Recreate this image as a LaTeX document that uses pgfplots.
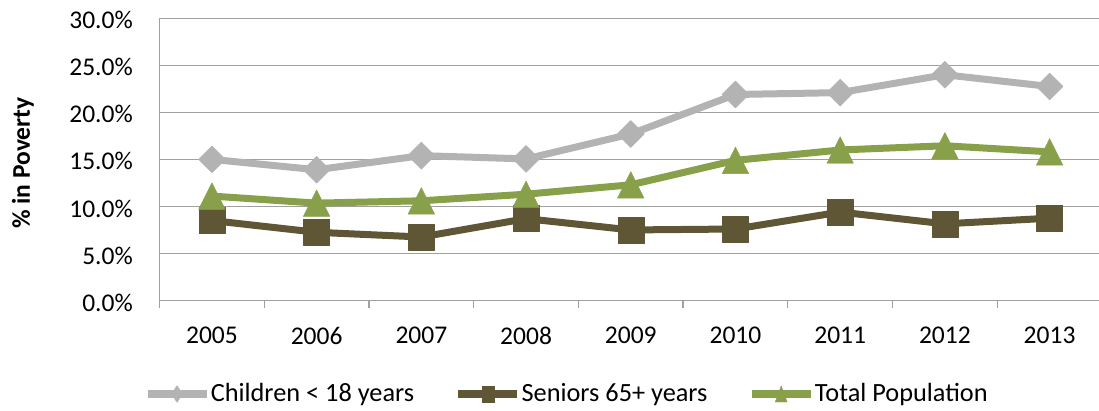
\documentclass[border=0pt]{standalone}
\usepackage{pgfplots}
\pgfplotsset{compat=1.18}
\usepackage{fontspec}
\setmainfont{Carlito}
\definecolor{cchild}{RGB}{179,179,179}
\definecolor{csen}{RGB}{94,86,53}
\definecolor{ctot}{RGB}{137,160,74}
\definecolor{cgrid}{RGB}{160,160,160}
\pgfdeclareplotmark{xldia}{%
  \pgfpathmoveto{\pgfqpoint{0pt}{\pgfplotmarksize}}%
  \pgfpathlineto{\pgfqpoint{\pgfplotmarksize}{0pt}}%
  \pgfpathlineto{\pgfqpoint{0pt}{-\pgfplotmarksize}}%
  \pgfpathlineto{\pgfqpoint{-\pgfplotmarksize}{0pt}}%
  \pgfpathclose\pgfusepathqfillstroke}
\pgfdeclareplotmark{xltri}{%
  \pgfpathmoveto{\pgfqpoint{0pt}{\pgfplotmarksize}}%
  \pgfpathlineto{\pgfqpoint{\pgfplotmarksize}{-\pgfplotmarksize}}%
  \pgfpathlineto{\pgfqpoint{-\pgfplotmarksize}{-\pgfplotmarksize}}%
  \pgfpathclose\pgfusepathqfillstroke}
\begin{document}
\fontsize{25.5bp}{30bp}\selectfont
\begin{tikzpicture}
\path[use as bounding box] (0,0) rectangle (1099bp,411bp);
\begin{axis}[
  at={(159.6bp,110.5bp)}, anchor=south west,
  scale only axis, width=939.4bp, height=282.2bp,
  font=\fontsize{25.5bp}{30bp}\selectfont,
  xmin=-0.5, xmax=8.472, ymin=0, ymax=30,
  axis x line*=bottom, axis y line*=left,
  axis line style={cgrid, line width=1.3bp},
  ymajorgrids, grid style={cgrid, line width=1.3bp},
  ytick={0,5,...,30},
  yticklabel={\pgfmathprintnumber[fixed,fixed zerofill,precision=1,assume math mode=true]{\tick}\%},
  xtick={0,...,8}, xticklabels={2005,2006,2007,2008,2009,2010,2011,2012,2013},
  extra x ticks={-0.5,0.5,1.5,2.5,3.5,4.5,5.5,6.5,7.5},
  extra x tick labels={},
  extra x tick style={major tick length=7bp, xmajorgrids=false, tick style={cgrid, line width=1.3bp}},
  tick align=outside,
  major tick length=0pt,
  yticklabel style={anchor=east, inner sep=0pt, xshift=-26.6bp, yshift=-2bp},
  xticklabel style={anchor=north, inner sep=0pt, yshift=-26.3bp},
  ylabel={\bfseries\% in Poverty},
  every axis y label/.style={at={(axis description cs:-0.1454,0.487)}, rotate=90, anchor=center},
  legend style={at={(axis description cs:0.4326,-0.3313)}, anchor=center, draw=none, fill=none,
    legend columns=3, /tikz/every even column/.append style={column sep=40bp},
    nodes={inner sep=0.5bp}, font=\fontsize{26.3bp}{30bp}\selectfont},
  legend cell align=left,
  legend image code/.code={\draw[mark repeat=2,mark phase=2,#1] plot coordinates {(0bp,0bp) (29.5bp,0bp) (59bp,0bp)};},
  clip=false,
]
\addlegendimage{cchild, line width=7.5bp, mark=xldia, mark size=7bp, mark options={solid, fill=cchild, draw=cchild, line width=0.4bp, xscale=0.8, yscale=1.2}}
\addlegendentry{Children < 18 years}
\addlegendimage{csen, line width=7.5bp, mark=square*, mark size=7bp, mark options={solid, fill=csen, draw=csen, line width=0.4bp, xscale=0.85, yscale=1.15}}
\addlegendentry{Seniors 65+ years}
\addlegendimage{ctot, line width=7.5bp, mark=xltri, mark size=7bp, mark options={solid, fill=ctot, draw=ctot, line width=0.4bp, xscale=0.85, yscale=1.15}}
\addlegendentry{Total Population}
\addplot[cchild, line width=7bp, line join=round, mark=xldia, mark size=13.5bp,
  mark options={solid, fill=cchild, draw=cchild, line width=0.4bp}, forget plot]
  coordinates {(0,15.0) (1,13.9) (2,15.4) (3,15.05) (4,17.7) (5,21.9) (6,22.1) (7,24.0) (8,22.75)};
\addplot[csen, line width=7bp, line join=round, mark=square*, mark size=13bp,
  mark options={solid, fill=csen, draw=csen, line width=0.4bp}, forget plot]
  coordinates {(0,8.5) (1,7.25) (2,6.75) (3,8.7) (4,7.5) (5,7.6) (6,9.4) (7,8.15) (8,8.75)};
\addplot[ctot, line width=7bp, line join=round, mark=xltri, mark size=13.3bp,
  mark options={solid, fill=ctot, draw=ctot, line width=0.4bp}, forget plot]
  coordinates {(0,11.1) (1,10.35) (2,10.6) (3,11.3) (4,12.3) (5,14.9) (6,16.0) (7,16.45) (8,15.8)};
\end{axis}
\end{tikzpicture}
\end{document}
